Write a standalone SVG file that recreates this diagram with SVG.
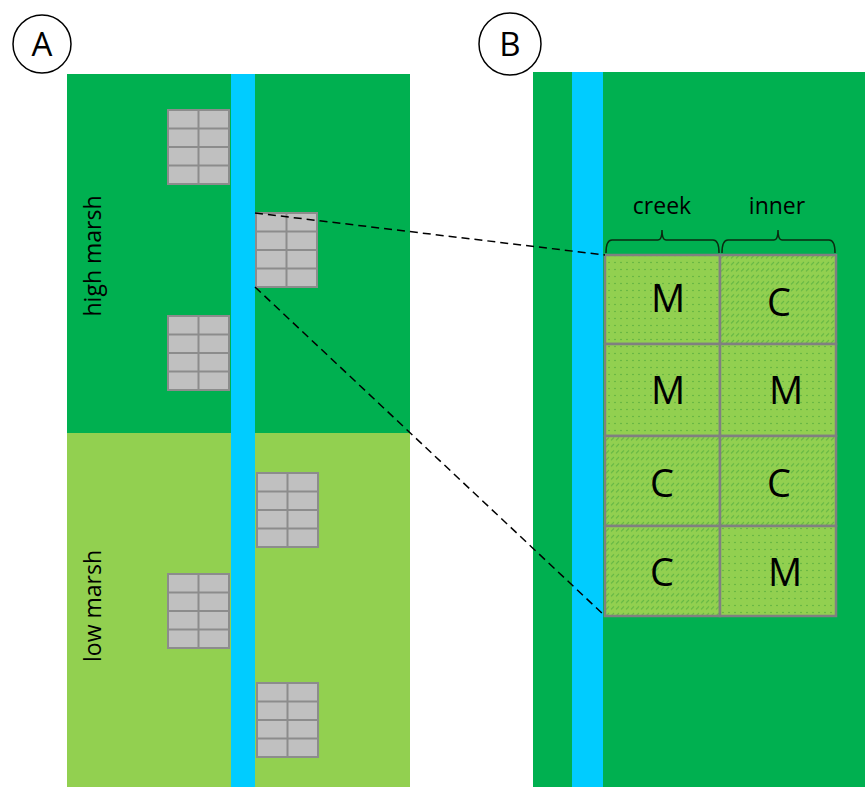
<svg xmlns="http://www.w3.org/2000/svg" width="865" height="787" viewBox="0 0 865 787">
<style>
.lbl{font-family:"Open Sans","Liberation Sans",sans-serif;fill:#000}
.big{font-size:38px;text-anchor:middle}
.plot{fill:#C0C0C0;stroke:#8C8C8C;stroke-width:2}
.gl{stroke:#8C8C8C;stroke-width:2}
.cell{stroke:#808080;stroke-width:2.5}
.brace{fill:none;stroke:#0A2A10;stroke-width:1.5}
</style>
<defs>
<pattern id="dots" width="6" height="7" patternUnits="userSpaceOnUse">
<rect width="6" height="7" fill="#92D050"/>
<circle cx="3" cy="3.5" r="0.8" fill="#5BAF3E"/>
</pattern>
<pattern id="hatch" width="5" height="6.5" patternUnits="userSpaceOnUse">
<rect width="5" height="6.5" fill="#92D050"/>
<line x1="1" y1="5" x2="4" y2="2" stroke="#5FB443" stroke-width="1.1"/>
</pattern>
<g id="grid">
<rect class="plot" x="0" y="0" width="61" height="74"/>
<line class="gl" x1="30.5" y1="0" x2="30.5" y2="74"/>
<line class="gl" x1="0" y1="18.5" x2="61" y2="18.5"/>
<line class="gl" x1="0" y1="37" x2="61" y2="37"/>
<line class="gl" x1="0" y1="55.5" x2="61" y2="55.5"/>
</g>
</defs>
<rect width="865" height="787" fill="#fff"/>

<g id="panelA">
<rect x="67" y="74" width="343" height="359" fill="#00B050"/>
<rect x="67" y="433" width="343" height="354" fill="#92D050"/>
<rect x="231" y="74" width="24" height="713" fill="#00CCFF"/>
<text class="lbl" font-size="23" text-anchor="middle" transform="translate(101,256) rotate(-90)">high marsh</text>
<text class="lbl" font-size="23" text-anchor="middle" transform="translate(101,606) rotate(-90)">low marsh</text>
</g>
<g id="plot1"><use href="#grid" x="168" y="110"/></g>
<g id="plot2"><use href="#grid" x="256" y="213"/></g>
<g id="plot3"><use href="#grid" x="168" y="316"/></g>
<g id="plot4"><use href="#grid" x="257" y="473"/></g>
<g id="plot5"><use href="#grid" x="168" y="574"/></g>
<g id="plot6"><use href="#grid" x="257" y="683"/></g>

<g id="labelA">
<circle cx="42" cy="44" r="29" fill="none" stroke="#000" stroke-width="1.5"/>
<text class="lbl" x="42" y="56" font-size="33" text-anchor="middle">A</text>
</g>
<g id="labelB">
<circle cx="510" cy="44" r="31" fill="none" stroke="#000" stroke-width="1.5"/>
<text class="lbl" x="510" y="56" font-size="33" text-anchor="middle">B</text>
</g>

<g id="panelB">
<rect x="533" y="72" width="332" height="715" fill="#00B050"/>
<rect x="572" y="72" width="31" height="715" fill="#00CCFF"/>
</g>

<g id="cells">
<rect class="cell" x="605" y="255" width="115" height="89" fill="url(#dots)"/>
<rect class="cell" x="720" y="255" width="116" height="89" fill="url(#hatch)"/>
<rect class="cell" x="605" y="344" width="115" height="92" fill="url(#dots)"/>
<rect class="cell" x="720" y="344" width="116" height="92" fill="url(#dots)"/>
<rect class="cell" x="605" y="436" width="115" height="90" fill="url(#hatch)"/>
<rect class="cell" x="720" y="436" width="116" height="90" fill="url(#hatch)"/>
<rect class="cell" x="605" y="526" width="115" height="90" fill="url(#hatch)"/>
<rect class="cell" x="720" y="526" width="116" height="90" fill="url(#dots)"/>
<text class="lbl big" x="668" y="312">M</text>
<text class="lbl big" x="779" y="316">C</text>
<text class="lbl big" x="668" y="404">M</text>
<text class="lbl big" x="786" y="404">M</text>
<text class="lbl big" x="662" y="497">C</text>
<text class="lbl big" x="779" y="497">C</text>
<text class="lbl big" x="662" y="586">C</text>
<text class="lbl big" x="785" y="586">M</text>
</g>

<g id="braces">
<path class="brace" d="M606,253 Q606,240 612,240 L658,240 Q662,240 662,230 Q662,240 666,240 L713,240 Q719,240 719,253"/>
<path class="brace" d="M722,253 Q722,240 728,240 L774,240 Q778,240 778,230 Q778,240 782,240 L829,240 Q835,240 835,253"/>
<text class="lbl" x="662" y="214" font-size="23" text-anchor="middle">creek</text>
<text class="lbl" x="777" y="214" font-size="23" text-anchor="middle">inner</text>
</g>

<g id="connectors">
<line x1="255" y1="213" x2="605" y2="255" stroke="#000" stroke-width="1.5" stroke-dasharray="8,5"/>
<line x1="255" y1="287" x2="605" y2="616" stroke="#000" stroke-width="1.5" stroke-dasharray="8,5"/>
</g>
</svg>
